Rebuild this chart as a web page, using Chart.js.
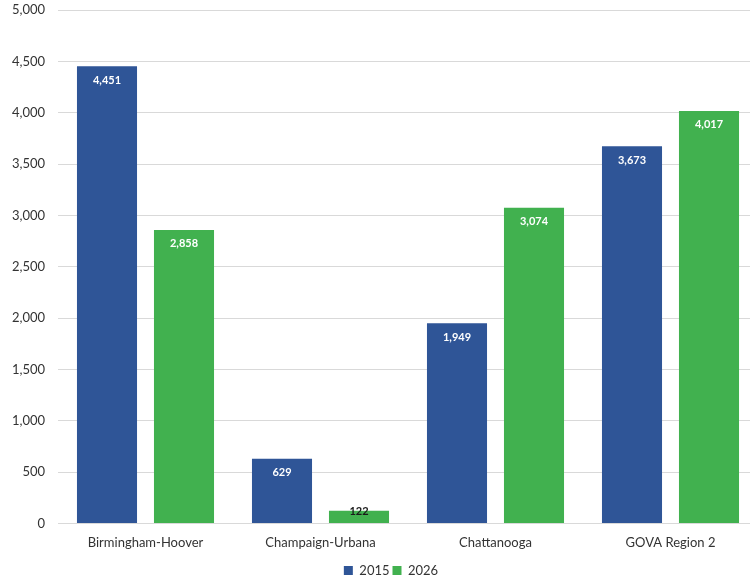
<!DOCTYPE html>
<html>
<head>
<meta charset="utf-8">
<script src="https://cdn.jsdelivr.net/npm/chart.js@4/dist/chart.umd.min.js"></script>
<style>
  html, body { margin: 0; padding: 0; background: #fff; overflow: hidden; }
  #wrap { width: 750px; height: 581px; overflow: hidden; }
</style>
</head>
<body>
<div id="wrap"><canvas id="myChart" width="760" height="581"></canvas></div>
<script>
// datos
const categorias = ['Birmingham-Hoover', 'Champaign-Urbana', 'Chattanooga', 'GOVA Region 2'];
const valores2015 = [4451, 629, 1949, 3673];
const valores2026 = [2858, 122, 3074, 4017];
const ticksY = [0, 500, 1000, 1500, 2000, 2500, 3000, 3500, 4000, 4500, 5000];

const fuente = 'Lato, "Liberation Sans", sans-serif';
const fmt = v => v.toLocaleString('en-US');

// etiquetas dentro de las barras
const etiquetas = {
  id: 'etiquetas',
  afterDatasetsDraw(chart) {
    const ctx = chart.ctx;
    ctx.save();
    ctx.font = 'bold 11px ' + fuente;
    ctx.textAlign = 'center';
    ctx.textBaseline = 'middle';
    chart.data.datasets.forEach((ds, i) => {
      chart.getDatasetMeta(i).data.forEach((bar, j) => {
        const alto = bar.base - bar.y;
        if (alto < 30) {
          ctx.fillStyle = '#1a1a1a';
          ctx.fillText(fmt(ds.data[j]), bar.x, bar.y + 1);
        } else {
          ctx.fillStyle = '#ffffff';
          ctx.fillText(fmt(ds.data[j]), bar.x, bar.y + 14);
        }
      });
    });
    ctx.restore();
  }
};

// correr la leyenda un poco (derecha y abajo)
const moverLeyenda = {
  id: 'moverLeyenda',
  afterLayout(chart) {
    chart.legend.left += 12;
    chart.legend.right += 12;
    chart.legend.top += 6;
    chart.legend.bottom += 6;
  }
};

const ctx = document.getElementById('myChart');
const myChart = new Chart(ctx, {
  type: 'bar',
  data: {
    labels: categorias,
    datasets: [{
      label: '2015',
      data: valores2015,
      backgroundColor: '#2F5597',
      borderWidth: 0,
      categoryPercentage: 0.88,
      barPercentage: 0.78
    }, {
      label: '2026',
      data: valores2026,
      backgroundColor: '#41B14F',
      borderWidth: 0,
      categoryPercentage: 0.88,
      barPercentage: 0.78
    }]
  },
  options: {
    responsive: false,
    animation: false,
    layout: { padding: { top: 10, right: 2, left: 0, bottom: 0 } },
    plugins: {
      tooltip: { enabled: false },
      legend: {
        position: 'bottom',
        labels: {
          boxWidth: 9,
          boxHeight: 9,
          padding: 3,
          color: '#333',
          font: { family: fuente, size: 13 }
        }
      }
    },
    scales: {
      x: {
        grid: { display: false },
        border: { display: false },
        ticks: {
          color: '#333',
          padding: 4,
          font: { family: fuente, size: 13 }
        }
      },
      y: {
        min: 0,
        max: 5000,
        afterBuildTicks: s => { s.ticks = ticksY.map(v => ({ value: v })); },
        afterFit: s => { s.width = 58; s.paddingTop = 0; },
        grid: { color: '#d9d9d9', drawTicks: false },
        border: { display: false },
        ticks: {
          color: '#333',
          padding: 13,
          font: { family: fuente, size: 13 },
          callback: v => fmt(v)
        }
      }
    }
  },
  plugins: [etiquetas, moverLeyenda]
});
</script>
</body>
</html>
